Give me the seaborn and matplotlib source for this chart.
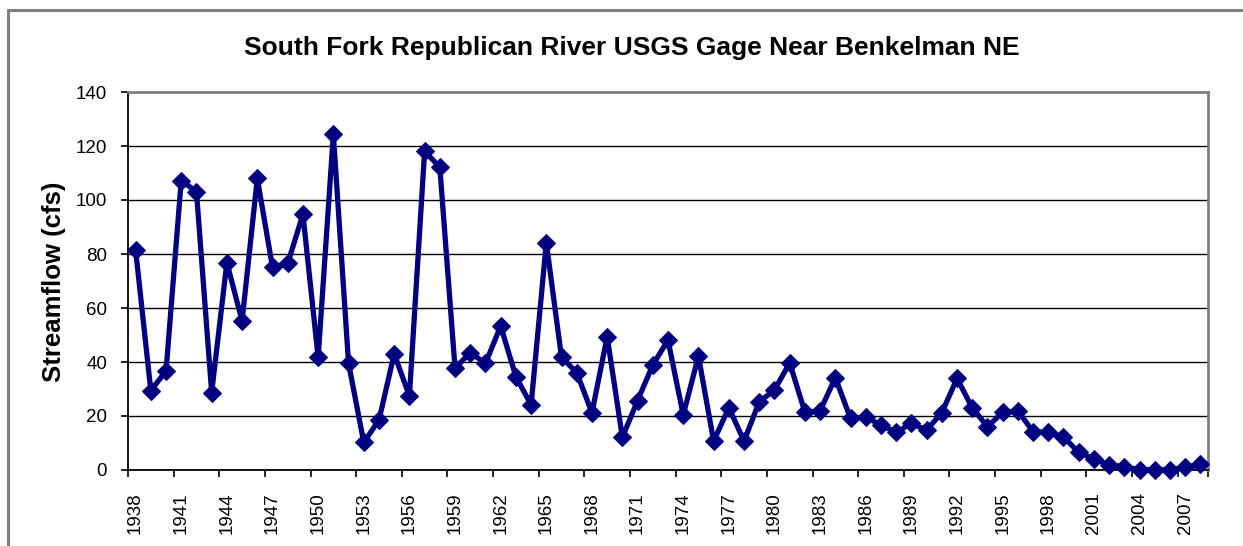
import matplotlib
matplotlib.use("Agg")
import matplotlib.pyplot as plt
from matplotlib.lines import Line2D
from matplotlib.ticker import FixedLocator, NullFormatter
import pandas as pd
import seaborn as sns

# Annual mean streamflow (cfs), South Fork Republican River near Benkelman, NE
years = list(range(1938, 2009))
flow_cfs = [
    81.5, 29.4, 36.7, 107.2, 103.1, 28.7, 76.8, 55.2, 108.0, 75.1,
    76.5, 94.7, 41.7, 124.3, 39.5, 10.2, 18.5, 43.0, 27.4, 118.1,
    112.1, 37.7, 43.5, 39.5, 53.3, 34.6, 24.1, 84.2, 41.7, 36.1,
    21.2, 49.4, 12.1, 25.7, 38.9, 48.1, 20.4, 42.2, 10.7, 23.1,
    10.7, 25.3, 29.6, 39.7, 21.4, 21.9, 34.2, 19.1, 19.5, 16.7,
    13.9, 17.3, 14.8, 21.2, 33.9, 23.1, 16.0, 21.4, 21.9, 14.2,
    13.9, 12.3, 6.5, 4.1, 1.9, 1.2, 0.1, 0.1, 0.1, 1.0,
    2.1,
]
label_years = years[::3]
y_ticks = [0, 20, 40, 60, 80, 100, 120, 140]

title = "South Fork Republican River USGS Gage Near Benkelman NE"
y_label = "Streamflow (cfs)"

df = pd.DataFrame({"Year": years, "Streamflow": flow_cfs})

sns.set_style("white")
plt.rcParams["font.family"] = ["Liberation Sans", "DejaVu Sans"]
plt.rcParams["text.color"] = "black"
plt.rcParams["axes.labelcolor"] = "black"
plt.rcParams["xtick.color"] = "black"
plt.rcParams["ytick.color"] = "black"

W, H = 1243, 546
fig = plt.figure(figsize=(W / 100, H / 100), dpi=100)
ax = fig.add_axes([128 / W, 1 - 470 / H, (1208 - 128) / W, (470 - 92) / H])

sns.lineplot(
    data=df, x="Year", y="Streamflow", ax=ax,
    color="#000080", linewidth=3.8, marker="D", markersize=9.5,
    markeredgecolor="#000080", markerfacecolor="#000080", zorder=5,
    clip_on=False,
)

ax.set_xlim(years[0] - 0.5, years[-1] + 0.5)
ax.set_ylim(0, 140)

# category-style x axis: tick marks on boundaries, labels on every third year
ax.xaxis.set_major_locator(FixedLocator([y - 0.5 for y in label_years] + [years[-1] + 0.5]))
ax.xaxis.set_major_formatter(NullFormatter())
ax.xaxis.set_minor_locator(FixedLocator(label_years))
ax.set_xticklabels([str(y) for y in label_years], minor=True, rotation=90, fontsize=13.5)
ax.tick_params(axis="x", which="major", direction="out", length=5, width=1.2, bottom=True)
ax.tick_params(axis="x", which="minor", length=0, pad=16, bottom=True)

ax.set_yticks(y_ticks)
ax.set_yticklabels([str(v) for v in y_ticks], fontsize=13.5)
ax.tick_params(axis="y", direction="out", length=5, width=1.2, left=True, pad=10)

ax.grid(axis="y", color="black", linewidth=1.0)
ax.grid(axis="x", visible=False)
ax.set_axisbelow(True)

for side in ("left", "bottom"):
    ax.spines[side].set_color("black")
    ax.spines[side].set_linewidth(1.3)
for side in ("top", "right"):
    ax.spines[side].set_color("#808080")
    ax.spines[side].set_linewidth(2.0)

ax.set_xlabel("")
ax.set_ylabel(y_label, fontsize=18.5, fontweight="bold")
ax.yaxis.set_label_coords(66 / W, 1 - 282 / H, transform=fig.transFigure)

fig.text(632 / W, 1 - 48 / H, title, ha="center", va="center",
         fontsize=19, fontweight="bold")

# chart-area frame (left and top edges)
fig.add_artist(Line2D([8 / W, 8 / W], [0, 1 - 10 / H], transform=fig.transFigure,
                      color="#808080", linewidth=2.2))
fig.add_artist(Line2D([8 / W, 1], [1 - 10 / H, 1 - 10 / H], transform=fig.transFigure,
                      color="#808080", linewidth=2.2))

fig.savefig("out.png", dpi=100, facecolor="white")
